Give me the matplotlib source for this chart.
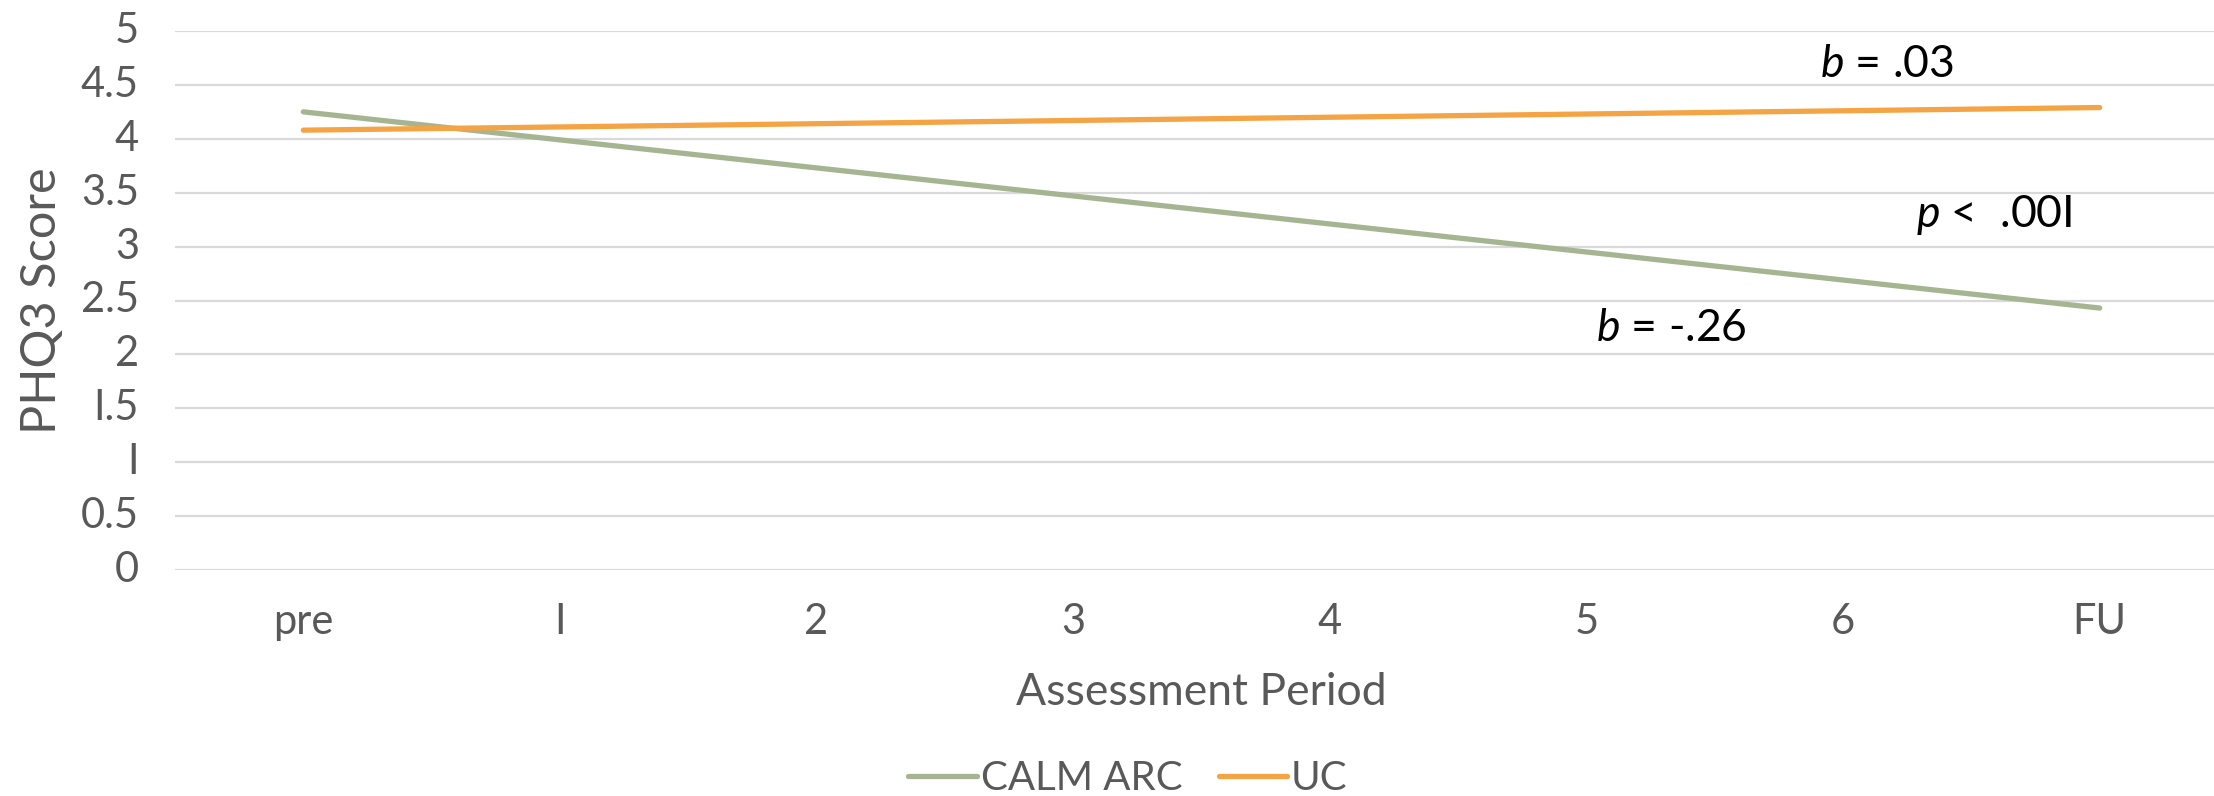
import matplotlib
matplotlib.use('Agg')
import matplotlib.pyplot as plt

plt.rcParams['font.family'] = ['Lato', 'DejaVu Sans']
plt.rcParams['mathtext.fontset'] = 'custom'
plt.rcParams['mathtext.it'] = 'Lato:italic'
plt.rcParams['mathtext.rm'] = 'Lato'

periods = ['pre', 'I', '2', '3', '4', '5', '6', 'FU']
calm_arc = [4.25, 3.99, 3.73, 3.47, 3.21, 2.95, 2.69, 2.43]
uc = [4.08, 4.11, 4.14, 4.17, 4.20, 4.23, 4.26, 4.29]
y_ticks = [0, 0.5, 1, 1.5, 2, 2.5, 3, 3.5, 4, 4.5, 5]
y_tick_labels = ['0', '0.5', 'I', 'I.5', '2', '2.5', '3', '3.5', '4', '4.5', '5']

grey = '#595959'
green = '#a5b592'
orange = '#f4a445'

W, H = 2214, 796
fig = plt.figure(figsize=(W / 100, H / 100), dpi=100)
# plot area: x from 175 to 2228 px, y from 31 to 570 px
ax = fig.add_axes([175 / W, (H - 570) / H, (2228 - 175) / W, (570 - 31) / H])

x = list(range(len(periods)))
ax.plot(x, calm_arc, color=green, lw=3.8, solid_capstyle='round', label='CALM ARC', zorder=3)
ax.plot(x, uc, color=orange, lw=3.8, solid_capstyle='round', label='UC', zorder=3)

ax.set_xlim(-0.5, len(periods) - 0.5)
ax.set_ylim(0, 5)
ax.set_yticks(y_ticks)
ax.set_yticklabels(y_tick_labels)
ax.set_xticks(x)
ax.set_xticklabels(periods)
ax.grid(axis='y', color='#d9d9d9', lw=1.6)
ax.set_axisbelow(True)
for s in ax.spines.values():
    s.set_visible(False)
ax.tick_params(length=0, labelsize=30, labelcolor=grey)
ax.tick_params(axis='y', pad=26)
ax.tick_params(axis='x', pad=24)
for lab in ax.get_yticklabels():
    lab.set_verticalalignment('center')

ax.set_xlabel('Assessment Period', fontsize=32, color=grey, labelpad=22)
ax.set_ylabel('PHQ3 Score', fontsize=35, color=grey, labelpad=12)

# slope annotations
ax.text(6.17, 4.69, r'$b$ = .03', fontsize=32, color='black', ha='center', va='center')
ax.text(6.59, 3.29, r'$p$ <  .00I', fontsize=32, color='black', ha='center', va='center')
ax.text(5.33, 2.24, r'$b$ = -.26', fontsize=32, color='black', ha='center', va='center')

fig.legend(loc='center', bbox_to_anchor=(1128 / W, 1 - 779 / H), ncol=2, frameon=False,
           fontsize=29, labelcolor=grey, handlelength=1.7, handletextpad=0.1,
           columnspacing=0.9)

fig.savefig('out.png', dpi=100)
